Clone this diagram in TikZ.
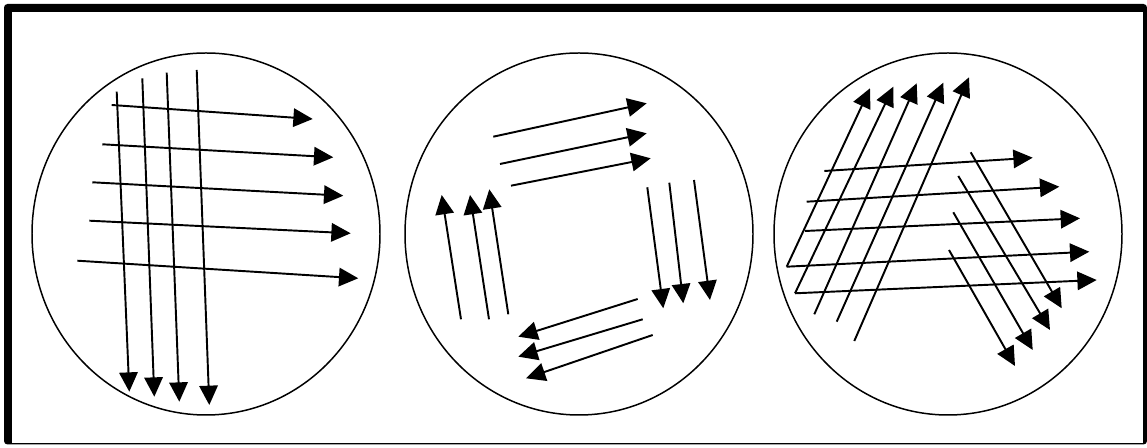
\documentclass[tikz,border=0pt]{standalone}
\usetikzlibrary{arrows.meta}
\begin{document}
\begin{tikzpicture}[x=0.02cm,y=-0.02cm,
  dish/.style={draw=black,line width=0.85pt},
  streak/.style={draw=black,line width=1.1pt,-{Triangle[length=11pt,width=10.5pt]}}]
\useasboundingbox (0,0) rectangle (1147,448);
\fill[white] (0,0) rectangle (1147,448);
% frame
\fill[black,rounded corners=2pt] (4,4) rectangle (1147,444.5);
\fill[white] (12,12) rectangle (1143,443.5);
% dishes
\draw[dish] (206,234) ellipse [x radius=174,y radius=181];
\draw[dish] (579,234) ellipse [x radius=174,y radius=181];
\draw[dish] (948,234) ellipse [x radius=174,y radius=181];
% dish 1 vertical
\draw[streak] (116.7,91.7) -- (129.3,391.7);
\draw[streak] (142.3,78.3) -- (154.3,396.7);
\draw[streak] (166.7,72.7) -- (179.3,401.7);
\draw[streak] (196.7,70) -- (209.3,405);
% dish 1 horizontal
\draw[streak] (111.7,105) -- (312.7,119);
\draw[streak] (102.3,144.3) -- (333.3,157.3);
\draw[streak] (92.3,182.3) -- (343.3,195.7);
\draw[streak] (89.3,220.7) -- (350.7,233.3);
\draw[streak] (77.3,260.7) -- (358.3,278.3);
% dish 2 top
\draw[streak] (493.3,136.7) -- (646.7,103.3);
\draw[streak] (500,164) -- (646.7,133.3);
\draw[streak] (511,185.7) -- (650.7,158.3);
% dish 2 right
\draw[streak] (647.3,187.3) -- (663.3,308.3);
\draw[streak] (669.3,182.7) -- (683.3,303.3);
\draw[streak] (694,180) -- (710,300);
% dish 2 bottom
\draw[streak] (637.7,299) -- (518.3,336.7);
\draw[streak] (642.7,319.3) -- (518.3,356.7);
\draw[streak] (652.7,335) -- (526,378.3);
% dish 2 left
\draw[streak] (461,319.3) -- (441.7,195);
\draw[streak] (489,319.3) -- (470,195);
\draw[streak] (508.3,314.3) -- (489.3,189.3);
% dish 3 up-right
\draw[streak] (786.7,266.7) -- (870,88.3);
\draw[streak] (795,293.3) -- (893.3,86.7);
\draw[streak] (814.3,314.3) -- (916.7,83.3);
\draw[streak] (836.7,321.7) -- (943.3,82.7);
\draw[streak] (854.3,341) -- (969,77.3);
% dish 3 right
\draw[streak] (824.3,171) -- (1032.7,157.7);
\draw[streak] (806.7,201.7) -- (1059.3,186.7);
\draw[streak] (805,231) -- (1080,218.3);
\draw[streak] (786.7,266.7) -- (1089.3,251.7);
\draw[streak] (795,293.3) -- (1096.7,280);
% dish 3 down-right
\draw[streak] (970.7,152.3) -- (1061.7,308.3);
\draw[streak] (958.3,176) -- (1050,330);
\draw[streak] (953.3,212.3) -- (1032.7,350);
\draw[streak] (949,250) -- (1015,366);
\end{tikzpicture}
\end{document}
